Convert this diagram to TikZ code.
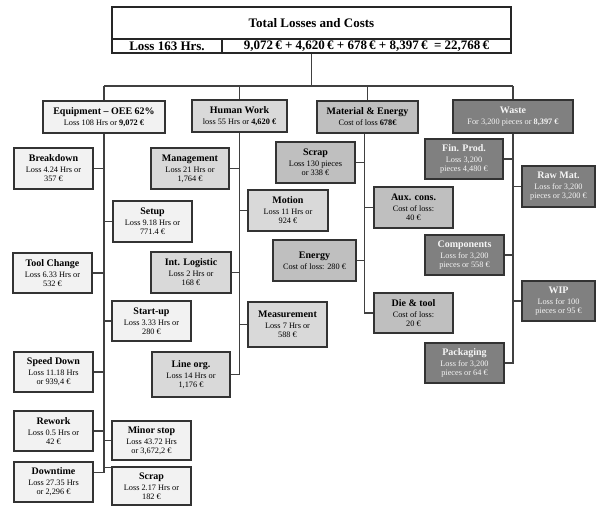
\documentclass[tikz,border=0pt]{standalone}
\usepackage{fontspec}
\setmainfont{Liberation Serif}
\newcommand\bxt[1]{{\fontsize{10}{11}\selectfont\bfseries #1}\\[2pt]}
\newcommand\bx[7]{\node[#6, minimum width={#4pt-#2pt}, minimum height={#5pt-#3pt}] (#1) at ({(#2+#4)/2},{(#3+#5)/2}) {#7};}
\begin{document}
\begin{tikzpicture}[x=1pt,y=-1pt,
  box/.style={draw=black!80, line width=1.3pt, inner sep=0pt, align=center, font=\fontsize{8.3}{9}\selectfont},
  eqc/.style={box, fill=black!5},
  huc/.style={box, fill=black!15},
  mac/.style={box, fill=black!25},
  wac/.style={box, fill=black!50, text=black!4},
  topbox/.style={draw=black!85, line width=1.3pt, inner sep=0pt, font=\fontsize{13}{14}\selectfont\bfseries},
  con/.style={draw=black!75, line width=1.1pt}]
\useasboundingbox (0,0) rectangle (597,506);
% top table
\bx{tt}{112}{7}{511}{39}{topbox}{Total Losses and Costs}
\bx{th}{112}{39}{222}{53}{topbox}{Loss 163 Hrs.}
\bx{ts}{222}{39}{511}{53}{topbox}{9,072\,€ + 4,620\,€ + 678\,€ + 8,397\,€ \ = 22,768\,€}
\coordinate (bus) at (0,86);
% main categories
\bx{eq}{43}{101}{165}{133}{eqc}{\bxt{Equipment -- OEE 62\%}Loss 108 Hrs or \textbf{9,072 €}}
\bx{hu}{192}{100}{287}{132}{huc}{\bxt{Human Work}loss 55 Hrs or \textbf{4,620 €}}
\bx{ma}{317}{101}{418}{133}{mac}{\bxt{Material \& Energy}Cost of loss \textbf{678€}}
\bx{wa}{453}{100}{573}{133}{wac}{\bxt{Waste}For 3,200 pieces or \textbf{8,397 €}}
% equipment
\bx{bd}{14}{148}{93}{189}{eqc}{\bxt{Breakdown}Loss 4.24 Hrs or\\357 €}
\bx{su}{113}{201}{192}{242}{eqc}{\bxt{Setup}Loss 9.18 Hrs or\\771.4 €}
\bx{tc}{13}{253}{92}{293}{eqc}{\bxt{Tool Change}Loss 6.33 Hrs or\\532 €}
\bx{st}{112}{301}{191}{341}{eqc}{\bxt{Start-up}Loss 3.33 Hrs or\\280 €}
\bx{sd}{14}{352}{93}{392}{eqc}{\bxt{Speed Down}Loss 11.18 Hrs\\or 939,4 €}
\bx{rw}{14}{411}{93}{451}{eqc}{\bxt{Rework}Loss 0.5 Hrs or\\42 €}
\bx{ms}{112}{421}{191}{460}{eqc}{\bxt{Minor stop}Loss 43.72 Hrs\\or 3,672,2 €}
\bx{dt}{14}{462}{93}{502}{eqc}{\bxt{Downtime}Loss 27.35 Hrs\\or 2,296 €}
\bx{sc}{112}{467}{191}{505}{eqc}{\bxt{Scrap}Loss 2.17 Hrs or\\182 €}
% human
\bx{mg}{151}{148}{229}{189}{huc}{\bxt{Management}Loss 21 Hrs or\\1,764 €}
\bx{mo}{248}{190}{328}{231}{huc}{\bxt{Motion}Loss 11 Hrs or\\924 €}
\bx{il}{151}{252}{231}{293}{huc}{\bxt{Int. Logistic}Loss 2 Hrs or\\168 €}
\bx{me}{248}{302}{327}{347}{huc}{\bxt{Measurement}Loss 7 Hrs or\\588 €}
\bx{lo}{152}{352}{230}{397}{huc}{\bxt{Line org.}Loss 14 Hrs or\\1,176 €}
% material
\bx{ms2}{276}{142}{355}{183}{mac}{\bxt{Scrap}Loss 130 pieces\\or 338 €}
\bx{ac}{374}{187}{453}{228}{mac}{\bxt{Aux. cons.}Cost of loss:\\40 €}
\bx{en}{273}{240}{356}{281}{mac}{\bxt{Energy}Cost of loss: 280 €}
\bx{dte}{374}{293}{453}{333}{mac}{\bxt{Die \& tool}Cost of loss:\\20 €}
% waste
\bx{fp}{425}{139}{503}{179}{wac}{\bxt{Fin. Prod.}Loss 3,200\\pieces 4,480 €}
\bx{rm}{522}{166}{595}{207}{wac}{\bxt{Raw Mat.}Loss for 3,200\\pieces or 3,200 €}
\bx{co}{425}{235}{504}{275}{wac}{\bxt{Components}Loss for 3,200\\pieces or 558 €}
\bx{wi}{522}{281}{595}{321}{wac}{\bxt{WIP}Loss for 100\\pieces or 95 €}
\bx{pk}{425}{343}{504}{383}{wac}{\bxt{Packaging}Loss for 3,200\\pieces or 64 €}
% connectors: top level
\draw[con] (ts.south -| tt.south) -- (tt.south |- bus);
\draw[con] (eq.north |- bus) -- (wa.north |- bus);
\foreach \n in {eq,hu,ma,wa} \draw[con] (\n.north) -- (\n.north |- bus);
% equipment
\foreach \n in {bd,tc,sd,rw} \draw[con] (eq.south) |- (\n.east);
\foreach \n in {su,st,ms} \draw[con] (eq.south) |- (\n.west);
\draw[con] (eq.south) |- ([yshift=-11pt]dt.north east);
\draw[con] (eq.south) |- ([yshift=-1pt]sc.north west);
% human
\foreach \n in {mg,il,lo} \draw[con] (hu.south) |- (\n.east);
\foreach \n in {mo,me} \draw[con] (hu.south) |- (\n.west);
% material
\foreach \n in {ms2,en} \draw[con] ([xshift=-3pt]ma.south) |- (\n.east);
\foreach \n in {ac,dte} \draw[con] ([xshift=-3pt]ma.south) |- (\n.west);
% waste
\foreach \n in {fp,co,pk} \draw[con] (wa.south) |- (\n.east);
\foreach \n in {rm,wi} \draw[con] (wa.south) |- (\n.west);
\end{tikzpicture}
\end{document}
